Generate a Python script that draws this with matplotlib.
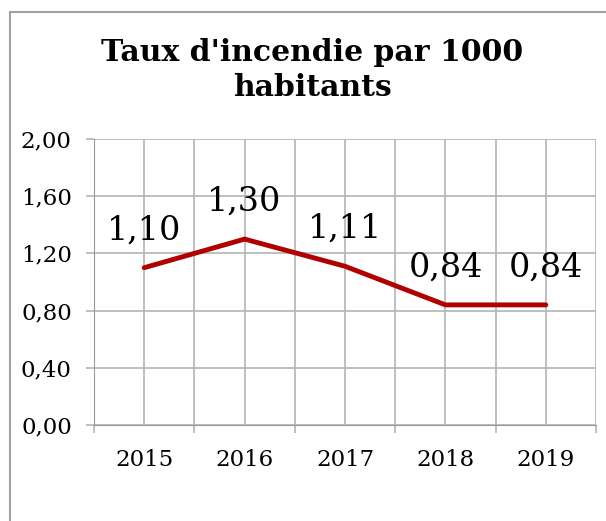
import matplotlib
matplotlib.use("Agg")
import matplotlib.pyplot as plt
from matplotlib.patches import Rectangle

years = ["2015", "2016", "2017", "2018", "2019"]
rates = [1.10, 1.30, 1.11, 0.84, 0.84]
y_ticks = [0.0, 0.4, 0.8, 1.2, 1.6, 2.0]

title = "Taux d'incendie par 1000\nhabitants"
line_color = "#B00000"
grid_color = "#B4B4B4"


def fr(v):
    return f"{v:.2f}".replace(".", ",")


plt.rcParams["font.family"] = ["DejaVu Serif"]

fig = plt.figure(figsize=(6.06, 5.21), dpi=100)
ax = fig.add_axes([94 / 606, 1 - 425 / 521, (596 - 94) / 606, (425 - 139) / 521])

x = list(range(len(years)))
ax.plot(x, rates, color=line_color, lw=3.5, solid_capstyle="round", zorder=3)

for xi, v in zip(x, rates):
    ax.annotate(fr(v), (xi, v), xytext=(0, 27), textcoords="offset points",
                ha="center", va="center", fontsize=24)

ax.set_xlim(-0.5, len(years) - 0.5)
ax.set_ylim(0, 2.0)

# category boundaries as major ticks, categories as minor ticks with labels
ax.set_xticks([i - 0.5 for i in range(len(years) + 1)])
ax.set_xticklabels([])
ax.set_xticks(x, minor=True)
ax.set_xticklabels(years, minor=True, fontsize=16.5)
ax.tick_params(axis="x", which="major", length=6, width=1.2, color=grid_color, direction="out")
ax.tick_params(axis="x", which="minor", length=0, pad=17)

ax.set_yticks(y_ticks)
ax.set_yticklabels([fr(v) for v in y_ticks], fontsize=16.5)
ax.tick_params(axis="y", length=6, width=1.2, color=grid_color, pad=10)

ax.grid(True, axis="x", which="both", color=grid_color, lw=1.2)
ax.grid(True, axis="y", color=grid_color, lw=1.2)
ax.set_axisbelow(True)
for s in ax.spines.values():
    s.set_visible(False)
ax.spines["left"].set_visible(True)
ax.spines["bottom"].set_visible(True)
ax.spines["left"].set_color("#999999")
ax.spines["bottom"].set_color("#999999")

fig.text(312 / 606, 1 - 70 / 521, title, ha="center", va="center",
         fontsize=21.5, fontweight="bold", linespacing=1.25)

# chart frame (cut off at right and bottom)
fig.patches.append(Rectangle((10 / 606, -0.1), 1.2, 1 - 12 / 521 + 0.1,
                             transform=fig.transFigure, fill=False,
                             edgecolor="#A0A0A0", lw=1.5))

fig.savefig("out.png", dpi=100)
